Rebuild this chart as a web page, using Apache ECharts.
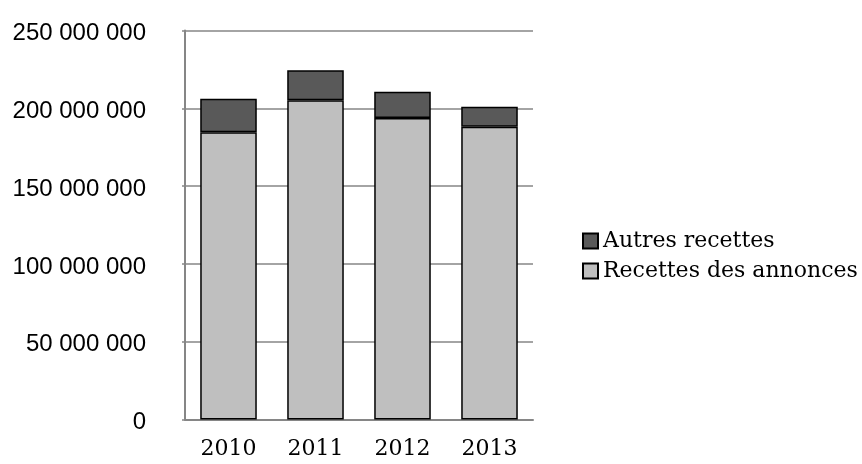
<!DOCTYPE html>
<html>
<head>
<meta charset="utf-8">
<style>
  html, body { margin: 0; padding: 0; background: #fff; }
  #chart { width: 862px; height: 464px; }
</style>
<script src="https://cdn.jsdelivr.net/npm/echarts@6/dist/echarts.min.js"></script>
</head>
<body>
<div id="chart"></div>
<script>
// Years on the category axis
const years = ['2010', '2011', '2012', '2013'];
// Advertising revenue (bottom segment)
const recettesAnnonces = [184600000, 205100000, 193800000, 188200000];
// Other revenue (stacked on top)
const autresRecettes = [21600000, 19300000, 16900000, 12800000];

const serif = '"DejaVu Serif", "Liberation Serif", serif';
const sans = '"Liberation Sans", Arial, sans-serif';

// French-style thousands grouping with spaces, wrapped in a rich-text style
function fmt(v) {
  return '{n|' + String(v).replace(/\B(?=(\d{3})+(?!\d))/g, ' ') + '}';
}

const chart = echarts.init(document.getElementById('chart'), null, { renderer: 'canvas' });

chart.setOption({
  animation: false,
  backgroundColor: '#ffffff',
  grid: { left: 185, right: 329, top: 30.5, bottom: 44.5, containLabel: false },
  legend: {
    orient: 'vertical',
    left: 577,
    top: 225,
    itemWidth: 15,
    itemHeight: 15,
    itemGap: 8,
    icon: 'rect',
    textStyle: { fontFamily: serif, fontSize: 22, color: '#000' },
    data: ['Autres recettes', 'Recettes des annonces']
  },
  xAxis: {
    type: 'category',
    data: years,
    axisLine: { lineStyle: { color: '#868686', width: 2 } },
    axisTick: { show: false },
    axisLabel: { fontFamily: serif, fontSize: 22, color: '#000', margin: 19 }
  },
  yAxis: {
    type: 'value',
    min: 0,
    max: 250000000,
    interval: 50000000,
    axisLine: { show: true, lineStyle: { color: '#868686', width: 2 } },
    axisTick: { show: true, length: 3, lineStyle: { color: '#868686', width: 1.5 } },
    splitLine: { lineStyle: { color: '#868686', width: 1.5 } },
    axisLabel: {
      color: '#000',
      margin: 39,
      formatter: fmt,
      rich: {
        n: { fontFamily: sans, fontSize: 24, color: '#000', padding: [6, 0, 0, 0] }
      }
    }
  },
  series: [
    {
      name: 'Recettes des annonces',
      type: 'bar',
      stack: 'total',
      data: recettesAnnonces,
      barWidth: '65%',
      itemStyle: { color: '#bfbfbf', borderColor: '#000', borderWidth: 1.5 }
    },
    {
      name: 'Autres recettes',
      type: 'bar',
      stack: 'total',
      data: autresRecettes,
      barWidth: '65%',
      itemStyle: { color: '#595959', borderColor: '#000', borderWidth: 1.5 }
    }
  ]
});
</script>
</body>
</html>
